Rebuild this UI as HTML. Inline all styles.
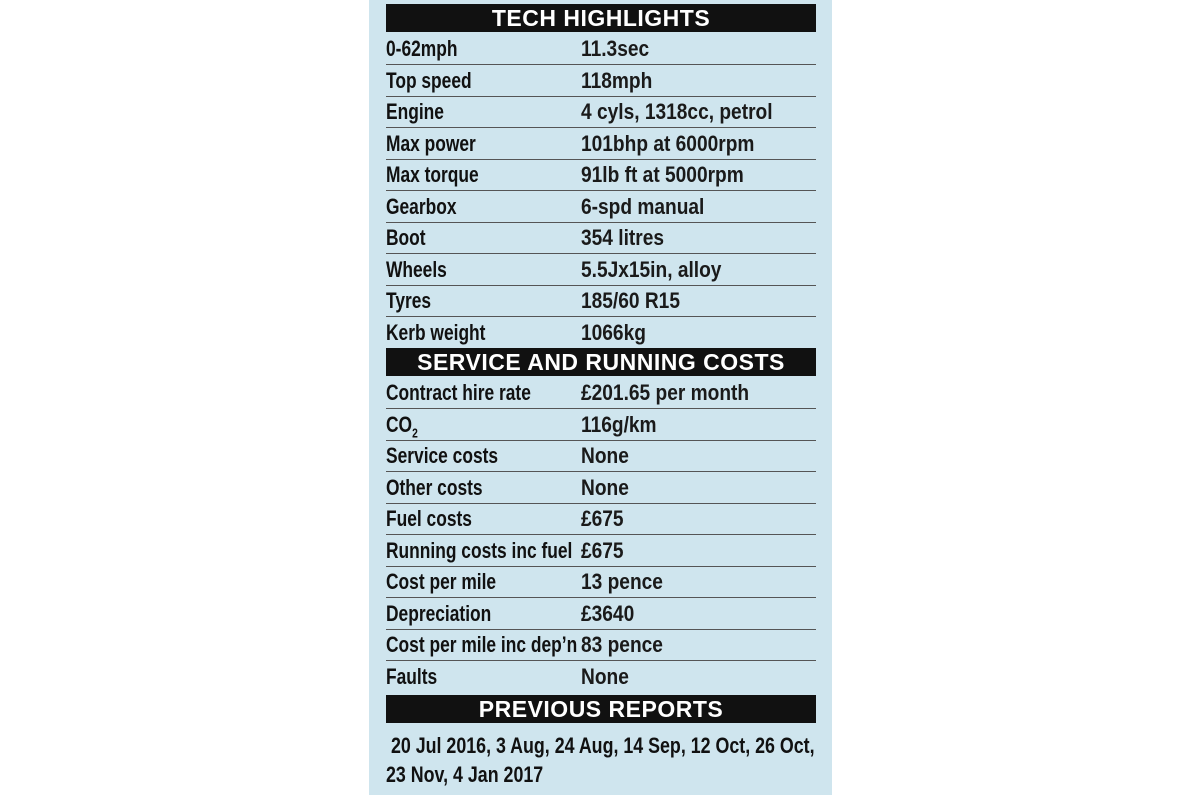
<!DOCTYPE html>
<html><head><style>
html,body{margin:0;padding:0;background:#fff;width:1200px;height:795px;overflow:hidden}
#p{position:absolute;left:369px;top:0;width:463px;height:795px;background:#cfe5ee}
.h{position:absolute;left:17px;width:430px;height:28px;background:#111;color:#fff;text-align:center;font:bold 23px/29px "Liberation Sans",sans-serif;letter-spacing:0.5px;white-space:nowrap}
.r{position:absolute;left:17px;width:430px;height:31px;border-bottom:1.5px solid #555;font:22px/31px "Liberation Sans",sans-serif;color:#111;white-space:nowrap}
.r b{position:absolute;left:0;top:0;font-weight:bold;transform:scaleX(0.79);transform-origin:0 50%}
.r span{position:absolute;left:195px;top:0;font-weight:bold;color:#1a1a1a;transform:scaleX(0.87);transform-origin:0 50%}
.t{position:absolute;left:17px;font:bold 22px/29px "Liberation Sans",sans-serif;color:#111;white-space:nowrap;transform:scaleX(0.81);transform-origin:0 50%}
</style></head><body><div id="p">
<div class="h" style="top:4px">TECH HIGHLIGHTS</div>
<div class="r" style="top:33px"><b>0-62mph</b><span>11.3sec</span></div>
<div class="r" style="top:64.5px"><b>Top speed</b><span>118mph</span></div>
<div class="r" style="top:96px"><b>Engine</b><span>4 cyls, 1318cc, petrol</span></div>
<div class="r" style="top:127.5px"><b>Max power</b><span>101bhp at 6000rpm</span></div>
<div class="r" style="top:159px"><b>Max torque</b><span>91lb ft at 5000rpm</span></div>
<div class="r" style="top:190.5px"><b>Gearbox</b><span>6-spd manual</span></div>
<div class="r" style="top:222px"><b>Boot</b><span>354 litres</span></div>
<div class="r" style="top:253.5px"><b>Wheels</b><span>5.5Jx15in, alloy</span></div>
<div class="r" style="top:285px"><b>Tyres</b><span>185/60 R15</span></div>
<div class="r" style="top:316.5px;border-bottom:none"><b>Kerb weight</b><span>1066kg</span></div>
<div class="h" style="top:348px">SERVICE AND RUNNING COSTS</div>
<div class="r" style="top:377px"><b>Contract hire rate</b><span>£201.65 per month</span></div>
<div class="r" style="top:408.5px"><b>CO<sub style="font-size:13px">2</sub></b><span>116g/km</span></div>
<div class="r" style="top:440px"><b>Service costs</b><span>None</span></div>
<div class="r" style="top:471.5px"><b>Other costs</b><span>None</span></div>
<div class="r" style="top:503px"><b>Fuel costs</b><span>£675</span></div>
<div class="r" style="top:534.5px"><b>Running costs inc fuel</b><span>£675</span></div>
<div class="r" style="top:566px"><b>Cost per mile</b><span>13 pence</span></div>
<div class="r" style="top:597.5px"><b>Depreciation</b><span>£3640</span></div>
<div class="r" style="top:629px"><b>Cost per mile inc dep’n</b><span>83 pence</span></div>
<div class="r" style="top:660.5px;border-bottom:none"><b>Faults</b><span>None</span></div>
<div class="h" style="top:695px">PREVIOUS REPORTS</div>
<div class="t" style="top:731px">&nbsp;20 Jul 2016, 3 Aug, 24 Aug, 14 Sep, 12 Oct, 26 Oct,</div>
<div class="t" style="top:760px">23 Nov, 4 Jan 2017</div>
</div></body></html>
